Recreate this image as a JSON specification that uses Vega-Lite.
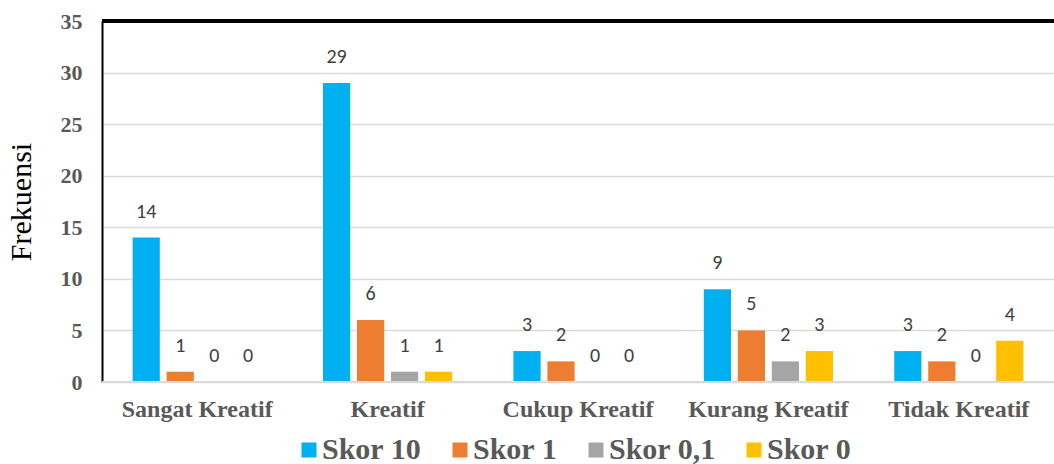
{
  "$schema": "https://vega.github.io/schema/vega-lite/v6.json",
  "width": 952,
  "height": 361,
  "autosize": {"type": "none"},
  "padding": {"left": 102, "top": 21, "right": 0, "bottom": 82},
  "background": "white",
  "config": {"view": {"stroke": null}},
  "data": {"values": [
    {"kategori": "Sangat Kreatif", "skor": "Skor 10", "frek": 14},
    {"kategori": "Sangat Kreatif", "skor": "Skor 1", "frek": 1},
    {"kategori": "Sangat Kreatif", "skor": "Skor 0,1", "frek": 0},
    {"kategori": "Sangat Kreatif", "skor": "Skor 0", "frek": 0},
    {"kategori": "Kreatif", "skor": "Skor 10", "frek": 29},
    {"kategori": "Kreatif", "skor": "Skor 1", "frek": 6},
    {"kategori": "Kreatif", "skor": "Skor 0,1", "frek": 1},
    {"kategori": "Kreatif", "skor": "Skor 0", "frek": 1},
    {"kategori": "Cukup Kreatif", "skor": "Skor 10", "frek": 3},
    {"kategori": "Cukup Kreatif", "skor": "Skor 1", "frek": 2},
    {"kategori": "Cukup Kreatif", "skor": "Skor 0,1", "frek": 0},
    {"kategori": "Cukup Kreatif", "skor": "Skor 0", "frek": 0},
    {"kategori": "Kurang Kreatif", "skor": "Skor 10", "frek": 9},
    {"kategori": "Kurang Kreatif", "skor": "Skor 1", "frek": 5},
    {"kategori": "Kurang Kreatif", "skor": "Skor 0,1", "frek": 2},
    {"kategori": "Kurang Kreatif", "skor": "Skor 0", "frek": 3},
    {"kategori": "Tidak Kreatif", "skor": "Skor 10", "frek": 3},
    {"kategori": "Tidak Kreatif", "skor": "Skor 1", "frek": 2},
    {"kategori": "Tidak Kreatif", "skor": "Skor 0,1", "frek": 0},
    {"kategori": "Tidak Kreatif", "skor": "Skor 0", "frek": 4}
  ]},
  "layer": [
    {
      "mark": {"type": "bar"},
      "encoding": {
        "x": {
          "field": "kategori", "type": "nominal",
          "sort": ["Sangat Kreatif", "Kreatif", "Cukup Kreatif", "Kurang Kreatif", "Tidak Kreatif"],
          "scale": {"paddingInner": 0.286, "paddingOuter": 0.143},
          "axis": {
            "title": null, "labelAngle": 0, "domain": false, "ticks": false,
            "labelFont": "Times New Roman, Liberation Serif, serif", "labelFontWeight": "bold", "labelFontSize": 24,
            "labelColor": "#595959", "labelPadding": 15
          }
        },
        "xOffset": {
          "field": "skor", "type": "nominal",
          "sort": ["Skor 10", "Skor 1", "Skor 0,1", "Skor 0"],
          "scale": {"paddingInner": 0.2, "paddingOuter": 0.1}
        },
        "y": {
          "field": "frek", "type": "quantitative",
          "scale": {"domain": [0, 35]},
          "axis": {
            "values": [0, 5, 10, 15, 20, 25, 30, 35],
            "title": "Frekuensi", "titleFont": "Times New Roman, Liberation Serif, serif", "titleFontWeight": "normal",
            "titleFontSize": 30, "titleColor": "#000000", "titlePadding": 24,
            "labelFont": "Times New Roman, Liberation Serif, serif", "labelFontWeight": "bold", "labelFontSize": 22,
            "labelColor": "#595959", "labelPadding": 20, "ticks": false,
            "domainColor": "#000000", "domainWidth": 2,
            "gridColor": "#D9D9D9", "gridWidth": 1.5
          }
        },
        "color": {
          "field": "skor", "type": "nominal",
          "sort": ["Skor 10", "Skor 1", "Skor 0,1", "Skor 0"],
          "scale": {"domain": ["Skor 10", "Skor 1", "Skor 0,1", "Skor 0"], "range": ["#00B0F0", "#ED7D31", "#A5A5A5", "#FFC000"]},
          "legend": {
            "title": null, "orient": "none", "direction": "horizontal",
            "legendX": 192, "legendY": 414,
            "symbolType": "square", "symbolSize": 225, "symbolStrokeWidth": 0,
            "labelFont": "Times New Roman, Liberation Serif, serif", "labelFontWeight": "bold", "labelFontSize": 30,
            "labelColor": "#595959", "labelOffset": -2, "columnPadding": 23
          }
        }
      }
    },
    {
      "mark": {"type": "text", "baseline": "middle", "dy": -26, "font": "Carlito, Calibri, Open Sans, sans-serif", "fontSize": 20, "color": "#404040"},
      "encoding": {
        "x": {
          "field": "kategori", "type": "nominal",
          "sort": ["Sangat Kreatif", "Kreatif", "Cukup Kreatif", "Kurang Kreatif", "Tidak Kreatif"]
        },
        "xOffset": {
          "field": "skor", "type": "nominal",
          "sort": ["Skor 10", "Skor 1", "Skor 0,1", "Skor 0"]
        },
        "y": {"field": "frek", "type": "quantitative"},
        "text": {"field": "frek", "type": "quantitative"}
      }
    },
    {
      "mark": {"type": "rule", "color": "#D9D9D9", "strokeWidth": 2},
      "encoding": {"y": {"datum": 0}}
    },
    {
      "mark": {"type": "rule", "color": "#000000", "strokeWidth": 2.5},
      "encoding": {"y": {"datum": 35}}
    }
  ]
}
